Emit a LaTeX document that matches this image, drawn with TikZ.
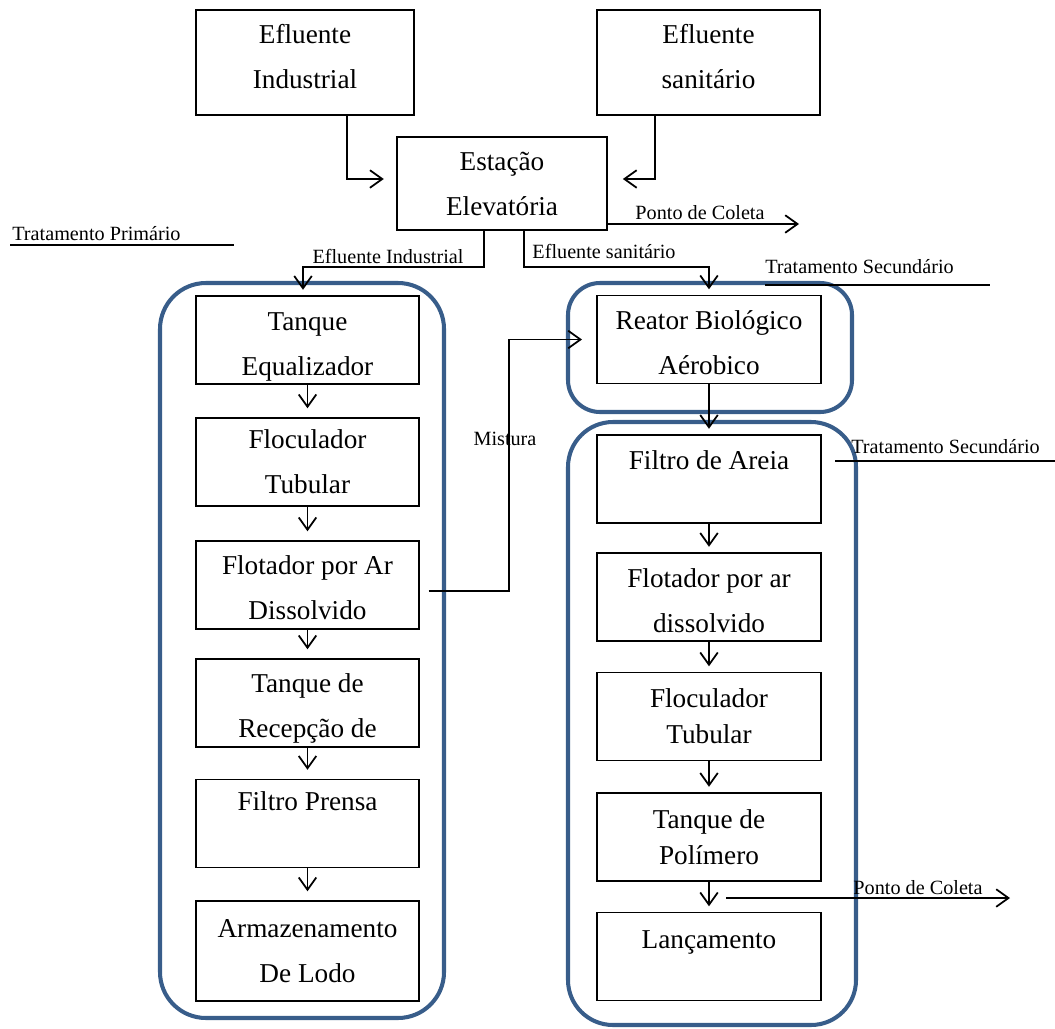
\documentclass[tikz,border=0pt]{standalone}
\usepackage{fontspec}
\setmainfont{Liberation Serif}
\usetikzlibrary{arrows.meta}
\definecolor{azul}{RGB}{56,93,138}
\newcommand\topo[1]{\mbox{}\\[-#1]}
\newcommand\base[1]{\\[-#1]\mbox{}}

\begin{document}
\begin{tikzpicture}[
		x=0.02cm, y=-0.02cm,
		every node/.style={font=\fontsize{11.5pt}{13pt}\selectfont},
		caixa/.style={draw, line width=1.1pt, align=center, inner sep=0pt, minimum width=4.46cm, minimum height=1.76cm, font=\fontsize{15.5pt}{25.6pt}\selectfont},
		seta/.style={line width=1pt, -{Straight Barb[length=7pt,width=10pt]}},
		grupo/.style={draw=azul, line width=2.3pt}
		]
		\useasboundingbox (0,0) rectangle (1055,1028);
		
		% grupos de tratamento
		\draw [ grupo, rounded corners=0.92cm ] (160,283) rectangle (444,1018);
		\draw [ grupo, rounded corners=0.64cm ] (568,283) rectangle (852,412);
		\draw [ grupo, rounded corners=0.9cm ] (568,422) rectangle (856,1025);
		
		\node [ caixa, minimum width=4.36cm, minimum height=2.1cm ] (efind) at (305,62.5) {Efluente\\Industrial\base{18.8pt}};
		\node [ caixa, minimum height=2.1cm ] (efsan) at (708.5,62.5) {Efluente\\sanitário\base{18.8pt}};
		\node [ caixa, minimum width=4.2cm, minimum height=1.86cm ] (estacao) at (502,183.5) {Estação\\Elevatória};
		
		\node [ caixa ] (equal) at (307.5,340) {\topo{7pt}Tanque\\Equalizador};
		\node [ caixa ] (floc) at (307.5,462) {Floculador\\Tubular};
		\node [ caixa ] (flot) at (307.5,585) {\topo{11.6pt}Flotador por Ar\\Dissolvido};
		\node [ caixa ] (recep) at (307.5,703) {\topo{8.2pt}Tanque de\\Recepção de};
		\node [ caixa ] (prensa) at (307.5,823.5) {Filtro Prensa\\\mbox{}};
		\node [ caixa, minimum height=2cm ] (lodo) at (307.5,951) {Armazenamento\\De Lodo};
		
		\node [ caixa, minimum width=4.48cm ] (reator) at (709,339.5) {\topo{11pt}Reator Biológico\\Aérobico};
		\node [ caixa, minimum width=4.48cm ] (areia) at (709,479) {\topo{10.5pt}Filtro de Areia\\\mbox{}};
		\node [ caixa, minimum width=4.48cm ] (flotar) at (709,597) {\topo{10.5pt}Flotador por ar\\dissolvido};
		\node [ caixa, minimum width=4.48cm ] (flocr) at (709,716.5) {Floculador\\[-5pt]Tubular};
		\node [ caixa, minimum width=4.48cm ] (polim) at (709,837) {Tanque de\\[-5pt]Polímero};
		\node [ caixa, minimum width=4.48cm ] (lanc) at (709,956.5) {\topo{9.3pt}Lançamento\\\mbox{}};
		
		\coordinate (pc1) at (799,224);
		\coordinate (pc2a) at (726,898);
		\coordinate (pc2b) at (1010,898);
		
		\draw [ seta, shorten >=7pt ] ([xshift=0.84cm]efind.south) |- ([yshift=0.09cm]estacao.west);
		\draw [ seta, shorten >=8.5pt ] ([xshift=-1.07cm]efsan.south) |- ([yshift=0.09cm]estacao.east);
		\draw [ seta ] ([yshift=-0.81cm]estacao.east) -- (pc1);
		\draw [ seta, shorten >=3pt ] ([xshift=-0.36cm]estacao.south) -- ++(0,36) -| ([xshift=-0.09cm]equal.north);
		\draw [ seta, shorten >=3pt ] ([xshift=0.44cm]estacao.south) -- ++(0,36) -| (reator.north);
		\draw [ seta, shorten <=5pt, shorten >=8pt ] ([yshift=-0.12cm]flot.east) -- ++(89,0) |- (reator.west);
		\draw [ seta ] (pc2a) -- (pc2b);
		
		\foreach \a/\b in {equal/floc, floc/flot, flot/recep, recep/prensa, prensa/lodo}
			\draw [ seta, shorten >=5pt ] (\a.south) -- (\b.north);
		\foreach \a/\b in {reator/areia, areia/flotar, flotar/flocr, flocr/polim, polim/lanc}
			\draw [ seta, shorten >=3pt ] (\a.south) -- (\b.north);
		
		% rotulos
		\node (rotEI) at (388,256) {Efluente Industrial};
		\node (rotES) at (604,251) {Efluente sanitário};
		\node (rotPC1) at (700,213) {Ponto de Coleta};
		\node (rotMist) at (505,439) {Mistura};
		\node (rotPC2) at (918,888) {Ponto de Coleta};
		\node [ anchor=base west, inner sep=0pt ] (rotTP) at (12,240) {Tratamento Primário};
		\node [ anchor=base west, inner sep=0pt ] (rotTS1) at (765,273) {Tratamento Secundário};
		\node [ anchor=base west, inner sep=0pt ] (rotTS2) at (851,453) {Tratamento Secundário};
		\draw [ line width=1pt ] (10,245) -- (234,245);
		\draw [ line width=1pt ] (765,285) -- (990,285);
		\draw [ line width=1pt ] (835,461) -- (1055,461);
		
	\end{tikzpicture}
\end{document}
